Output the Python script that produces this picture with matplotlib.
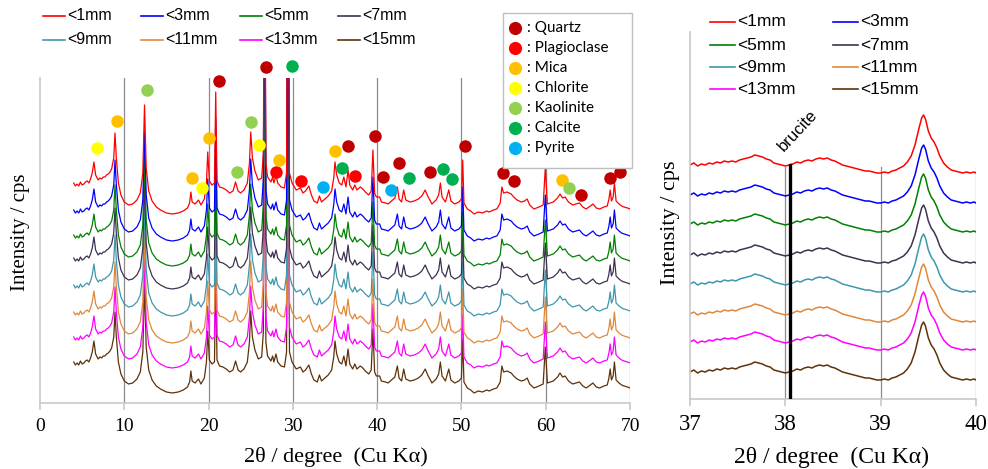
import matplotlib
matplotlib.use('Agg')
import matplotlib.pyplot as plt
from matplotlib.lines import Line2D
from matplotlib.patches import Rectangle

# ---------------- data ----------------
labels = ['<1mm', '<3mm', '<5mm', '<7mm', '<9mm', '<11mm', '<13mm', '<15mm']
colors = ['#FF0000', '#0000FF', '#008000', '#3F3151', '#3E97AE', '#E0883A', '#FF00FF', '#5E3209']

# left panel: common pattern shape (height above the 15 deg background) and stacking offsets
left_x = [4.0, 4.2, 4.4, 4.6, 4.8, 5.0, 5.2, 5.4, 5.6, 5.8, 6.0, 6.2, 6.4, 6.6, 6.9, 7.1, 7.3, 7.5, 7.7, 7.9,
          8.1, 8.3, 8.5, 8.75, 8.9, 9.05, 9.3, 9.6, 10.0, 10.5, 11.0, 11.5, 11.9, 12.2, 12.4, 12.6, 12.9,
          13.3, 13.8, 14.3, 15.0, 15.7, 16.4, 17.0, 17.5, 17.75, 17.9, 18.05, 18.4, 18.8, 19.1, 19.5, 19.75,
          19.9, 20.1, 20.4, 20.7, 20.85, 21.0, 21.3, 21.7, 22.1, 22.5, 22.9, 23.2, 23.5, 23.8, 24.2, 24.6,
          24.85, 25.0, 25.2, 25.5, 25.9, 26.3, 26.5, 26.65, 26.8, 27.0, 27.4, 27.6, 27.75, 28.0, 28.2, 28.6,
          29.0, 29.25, 29.42, 29.6, 29.9, 30.4, 30.9, 31.2, 31.5, 31.9, 32.2, 32.5, 32.9, 33.15, 33.4, 33.8,
          34.2, 34.6, 34.85, 35.0, 35.2, 35.5, 35.8, 36.05, 36.3, 36.55, 36.75, 37.1, 37.35, 37.6, 38.0,
          38.3, 38.6, 39.0, 39.3, 39.5, 39.7, 39.9, 40.3, 40.5, 41.0, 41.3, 41.7, 42.1, 42.4, 42.6, 42.9,
          43.15, 43.4, 43.9, 44.4, 44.9, 45.3, 45.7, 46.0, 46.5, 47.0, 47.3, 47.5, 47.7, 48.1, 48.5, 48.75,
          49.2, 49.7, 50.0, 50.15, 50.3, 50.7, 51.1, 51.5, 52.0, 52.5, 53.0, 53.3, 53.8, 54.2, 54.6, 54.8,
          55.0, 55.4, 55.9, 56.2, 56.6, 57.1, 57.5, 57.8, 58.1, 58.6, 59.2, 59.7, 59.95, 60.2, 60.9, 61.4,
          61.7, 62.0, 62.3, 62.7, 63.2, 63.6, 64.0, 64.4, 64.8, 65.3, 65.6, 66.0, 66.4, 66.9, 67.3, 67.5,
          67.65, 67.8, 68.0, 68.15, 68.35, 68.7, 69.0, 69.3, 69.7, 70.0]
left_h = [30, 27, 29, 27, 31, 28, 29, 31, 32, 30, 34, 40, 51, 38, 33, 35, 34, 36, 36, 38,
          39, 41, 44, 55, 80, 56, 30, 18, 11, 8, 9, 13, 20, 40, 108, 45, 22,
          12, 6, 3, 0, -1, 0, 2, 5, 10, 21, 11, 9, 13, 8, 14, 30,
          61, 32, 28, 30, 121, 32, 26, 25, 23, 20, 22, 31, 22, 20, 23, 30,
          50, 81, 55, 42, 33, 35, 60, 330, 50, 36, 31, 36, 30, 38, 30, 26,
          25, 40, 330, 40, 30, 23, 25, 20, 22, 27, 18, 12, 10, 17, 11, 14,
          17, 22, 35, 51, 38, 30, 28, 36, 26, 43, 28, 23, 28, 23, 26,
          24, 21, 18, 22, 63, 20, 16, 16, 11, 10, 9, 12, 15, 26, 14, 11,
          23, 13, 11, 12, 14, 17, 23, 17, 9, 13, 18, 30, 16, 11, 23, 12,
          9, 11, 14, 53, 10, 4, 2, -1, 1, 0, 2, 1, 3, 4, 10, 26,
          20, 21, 19, 16, 13, 11, 12, 14, 8, 4, 6, 8, 45, 9, 11, 15,
          19, 15, 16, 11, 8, 9, 10, 6, 4, 7, 9, 5, 4, 6, 7, 14,
          23, 12, 16, 30, 12, 9, 7, 6, 5, 4]
left_offsets = [190, 163, 138, 115, 88, 61, 36, 11]

# right panel: common shape (height above the 39 deg minimum) and stacking offsets
right_x = [37.00, 37.04, 37.08, 37.12, 37.16, 37.20, 37.24, 37.28, 37.32, 37.36, 37.40, 37.44, 37.48,
           37.52, 37.56, 37.60, 37.64, 37.68, 37.72, 37.76, 37.80, 37.84, 37.88, 37.92, 37.96, 38.00,
           38.04, 38.08, 38.12, 38.16, 38.20, 38.24, 38.28, 38.32, 38.36, 38.40, 38.44, 38.48, 38.52,
           38.56, 38.60, 38.64, 38.68, 38.72, 38.76, 38.80, 38.84, 38.88, 38.92, 38.96, 39.00, 39.04,
           39.08, 39.12, 39.16, 39.20, 39.24, 39.28, 39.32, 39.36, 39.40, 39.43, 39.45, 39.47, 39.50,
           39.53, 39.56, 39.59, 39.62, 39.66, 39.70, 39.74, 39.78, 39.82, 39.86, 39.90, 39.94, 39.98, 40.00]
right_h = [8, 10, 7, 9, 8, 10, 9, 11, 10, 12, 11, 12, 11,
           13, 14, 15, 16, 18, 17, 16, 14, 13, 10, 9, 8, 7,
           8, 9, 11, 10, 12, 13, 12, 14, 15, 14, 15, 13, 12,
           10, 8, 7, 6, 5, 4, 3, 2, 2, 1, 0, 0, 1,
           0, 2, 3, 5, 7, 11, 17, 28, 44, 55, 58, 54, 42,
           35, 31, 25, 17, 10, 6, 3, 2, 1, 0, 1, 0, 1, 0]
right_offsets = [226, 196, 167, 136, 107, 77, 49, 19]

brucite_x = 38.05

minerals = ['Quartz', 'Plagioclase', 'Mica', 'Chlorite', 'Kaolinite', 'Calcite', 'Pyrite']
mineral_colors = ['#C00000', '#FF0000', '#FFC000', '#FFFF00', '#92D050', '#00B050', '#00B0F0']
mineral_x = [
    [21.2, 26.8, 36.6, 39.8, 40.7, 42.6, 46.3, 50.4, 54.9, 56.2, 59.8, 64.2, 67.6, 68.8],
    [28.05, 30.95, 37.4],
    [9.12, 18.04, 20.0, 28.33, 35.0, 61.9],
    [6.74, 19.23, 25.97],
    [12.7, 23.35, 25.06, 62.8],
    [29.9, 35.8, 43.8, 47.8, 48.9],
    [33.6, 41.6],
]
mineral_y = [
    [322, 336, 257, 267, 226, 240, 231, 257, 230, 222, 245, 208, 225, 231],
    [231, 222, 227],
    [282, 225, 265, 243, 252, 223],
    [255, 215, 258],
    [313, 231, 281, 215],
    [337, 235, 225, 234, 224],
    [216, 213],
]

left_ticks = [0, 10, 20, 30, 40, 50, 60, 70]
right_ticks = [37, 38, 39, 40]

# ---------------- figure ----------------
W, H = 988, 469
fig = plt.figure(figsize=(W / 100, H / 100), dpi=100)


def fx(px):
    return px / W


def fy(py):
    return 1 - py / H


SERIF = 'Liberation Serif'
SANS = 'Liberation Sans'
GRID = '#8C8C8C'
SPINE = '#C8C8C8'

# left axes
ax1 = fig.add_axes([fx(40), fy(403), fx(630) - fx(40), fy(78) - fy(403)])
ax1.set_xlim(0, 70)
ax1.set_ylim(0, 325)
for gx in left_ticks[1:]:
    ax1.axvline(gx, color=GRID, lw=0.9, zorder=0)
for i in range(len(labels) - 1, -1, -1):
    ax1.plot(left_x, [h + left_offsets[i] for h in left_h], color=colors[i], lw=0.9, zorder=2 + (8 - i) * 0.01)
for name, col, xs, ys in zip(minerals, mineral_colors, mineral_x, mineral_y):
    ax1.plot(xs, ys, 'o', color=col, ms=9, mec='none', clip_on=False, zorder=5)
ax1.set_xticks(left_ticks)
ax1.set_yticks([])
for s in ['top', 'right']:
    ax1.spines[s].set_visible(False)
for s in ['left', 'bottom']:
    ax1.spines[s].set_color(SPINE)
    ax1.spines[s].set_linewidth(1.2)
ax1.tick_params(axis='x', direction='out', length=5, width=1.2, color=SPINE, pad=6, labelsize=14)
for t in ax1.get_xticklabels():
    t.set_fontfamily(SERIF)

# right axes
ax2 = fig.add_axes([fx(690), fy(399), fx(976) - fx(690), fy(32) - fy(399)])
ax2.set_xlim(37, 40)
ax2.set_ylim(0, 367)
gfrac = (399 - 167) / (399 - 32)
for gx in right_ticks[1:]:
    ax2.axvline(gx, ymax=gfrac, color=GRID, lw=0.9, zorder=0)
for i in range(len(labels) - 1, -1, -1):
    ax2.plot(right_x, [h + right_offsets[i] for h in right_h], color=colors[i], lw=1.1, zorder=2)
ax2.plot([brucite_x, brucite_x], [0, 234], color='black', lw=2.4, zorder=4)
ax2.text(37.985, 247, 'brucite', rotation=47, rotation_mode='anchor', ha='left', va='baseline',
         fontsize=12, family=SANS)
ax2.set_xticks(right_ticks)
ax2.set_yticks([])
for s in ['top', 'right']:
    ax2.spines[s].set_visible(False)
for s in ['left', 'bottom']:
    ax2.spines[s].set_color(SPINE)
    ax2.spines[s].set_linewidth(1.2)
ax2.tick_params(axis='x', direction='out', length=5, width=1.2, color=SPINE, pad=6, labelsize=16.5)
for t in ax2.get_xticklabels():
    t.set_fontfamily(SERIF)

# axis labels
fig.text(fx(20), fy(232), 'Intensity / cps', rotation=90, ha='center', va='center', fontsize=15, family=SERIF)
fig.text(fx(670), fy(223), 'Intensity / cps', rotation=90, ha='center', va='center', fontsize=16, family=SERIF)
fig.text(fx(336), fy(457), '2θ / degree  (Cu Kα)', ha='center', va='center', fontsize=16, family=SERIF)
fig.text(fx(832), fy(457), '2θ / degree  (Cu Kα)', ha='center', va='center', fontsize=17, family=SERIF)

# left series legend (2 rows x 4 cols)
col_px = [43, 141, 240, 338]
row_px = [16, 40]
for i, lab in enumerate(labels):
    r, c = divmod(i, 4)
    x0, y0 = col_px[c], row_px[r]
    fig.add_artist(Line2D([fx(x0), fx(x0 + 22)], [fy(y0), fy(y0)], color=colors[i], lw=1.2))
    fig.text(fx(x0 + 24), fy(y0), lab, ha='left', va='center', fontsize=11.5, family=SANS)

# right series legend (4 rows x 2 cols)
col_px2 = [710, 833]
row_px2 = [22, 45, 67, 89]
for i, lab in enumerate(labels):
    r, c = divmod(i, 2)
    x0, y0 = col_px2[c], row_px2[r]
    fig.add_artist(Line2D([fx(x0), fx(x0 + 25)], [fy(y0), fy(y0)], color=colors[i], lw=1.2))
    fig.text(fx(x0 + 27), fy(y0), lab, ha='left', va='center', fontsize=12.5, family=SANS)

# mineral legend box
fig.add_artist(Rectangle((fx(503), fy(168)), fx(632) - fx(503), fy(13) - fy(168), transform=fig.transFigure,
                         facecolor='white', edgecolor='#BFBFBF', lw=1.0, zorder=6))
for k, (name, col) in enumerate(zip(minerals, mineral_colors)):
    yk = 28 + 20 * k
    fig.add_artist(Line2D([fx(515)], [fy(yk)], marker='o', ms=9.5, color=col, mec='none', zorder=7))
    fig.text(fx(527), fy(yk), ': ' + name, ha='left', va='center', fontsize=11, family='Lato', zorder=7)

fig.savefig('out.png', dpi=100)
